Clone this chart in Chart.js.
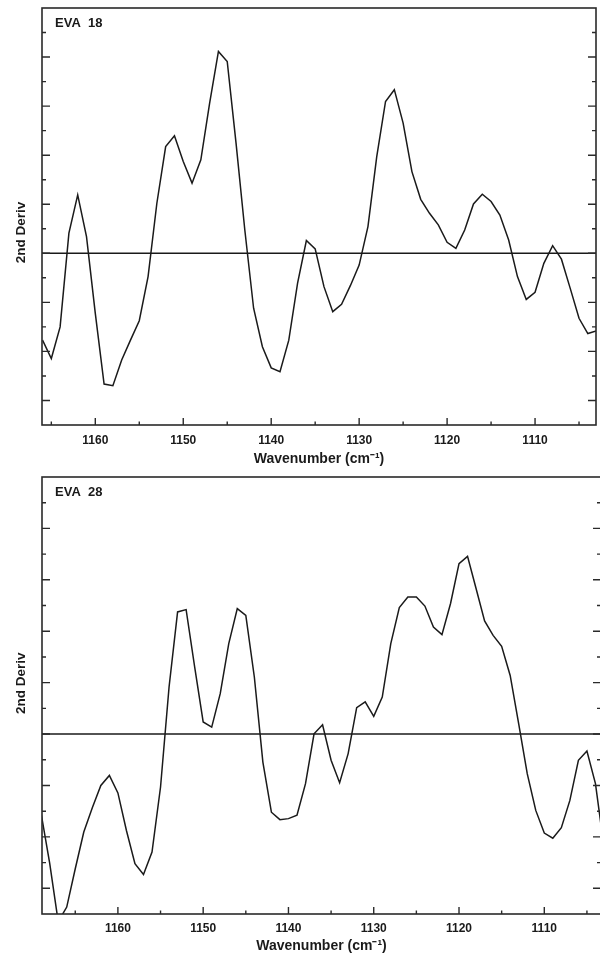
<!DOCTYPE html>
<html>
<head>
<meta charset="utf-8">
<script src="https://cdn.jsdelivr.net/npm/chart.js@4.4.1/dist/chart.umd.min.js"></script>
<style>
  html, body { margin: 0; padding: 0; background: #fff; width: 600px; height: 954px; overflow: hidden; }
  .panel { position: absolute; left: 0; }
</style>
</head>
<body>
<div class="panel" style="top:0"><canvas id="eva18" width="600" height="470"></canvas></div>
<div class="panel" style="top:470px"><canvas id="eva28" width="602" height="484"></canvas></div>
<script>
// EVA 18 - second derivative spectrum
const wn18 = [1166, 1165, 1164, 1163, 1162, 1161, 1160, 1159, 1158, 1157, 1156, 1155, 1154, 1153, 1152, 1151,
  1150, 1149, 1148, 1147, 1146, 1145, 1144, 1143, 1142, 1141, 1140, 1139, 1138, 1137, 1136, 1135,
  1134, 1133, 1132, 1131, 1130, 1129, 1128, 1127, 1126, 1125, 1124, 1123, 1122, 1121, 1120, 1119,
  1118, 1117, 1116, 1115, 1114, 1113, 1112, 1111, 1110, 1109, 1108, 1107, 1106, 1105, 1104, 1103];
const deriv18 = [-3.54, -4.29, -3.0, 0.82, 2.38, 0.68, -2.45, -5.33, -5.40, -4.35, -3.54, -2.75, -0.95, 2.04, 4.35, 4.79,
  3.74, 2.86, 3.81, 6.12, 8.23, 7.82, 4.5, 0.95, -2.24, -3.81, -4.67, -4.83, -3.54, -1.22, 0.52, 0.18,
  -1.36, -2.38, -2.08, -1.32, -0.48, 1.09, 3.94, 6.19, 6.67, 5.31, 3.33, 2.2, 1.63, 1.16, 0.45, 0.2,
  0.95, 2.01, 2.41, 2.11, 1.56, 0.54, -0.95, -1.88, -1.59, -0.41, 0.31, -0.24, -1.43, -2.65, -3.27, -3.16];

// EVA 28
const wn28 = [1169, 1168, 1167, 1166, 1165, 1164, 1163, 1162, 1161, 1160, 1159, 1158, 1157, 1156, 1155, 1154,
  1153, 1152, 1151, 1150, 1149, 1148, 1147, 1146, 1145, 1144, 1143, 1142, 1141, 1140, 1139, 1138,
  1137, 1136, 1135, 1134, 1133, 1132, 1131, 1130, 1129, 1128, 1127, 1126, 1125, 1124, 1123, 1122,
  1121, 1120, 1119, 1118, 1117, 1116, 1115, 1114, 1113, 1112, 1111, 1110, 1109, 1108, 1107, 1106,
  1105, 1104, 1103];
const deriv28 = [-3.10, -5.02, -7.3, -6.73, -5.24, -3.81, -2.87, -2.0, -1.61, -2.29, -3.75, -5.04, -5.46, -4.59, -2.06, 1.83,
  4.75, 4.84, 2.61, 0.47, 0.27, 1.57, 3.52, 4.88, 4.62, 2.22, -1.09, -3.04, -3.33, -3.29, -3.16, -1.93,
  0.01, 0.36, -1.02, -1.89, -0.76, 1.03, 1.25, 0.69, 1.44, 3.52, 4.92, 5.33, 5.33, 4.98, 4.16, 3.87,
  5.07, 6.63, 6.91, 5.66, 4.40, 3.84, 3.41, 2.28, 0.40, -1.54, -2.97, -3.85, -4.05, -3.64, -2.58, -1.02,
  -0.66, -1.93, -4.4];

// axis ticks
const xMajorTicks = [1160, 1150, 1140, 1130, 1120, 1110];
const xMinorTicks = [1165, 1155, 1145, 1135, 1125, 1115, 1105];
const yMajorTicks = [-6, -4, -2, 0, 2, 4, 6, 8];
const yMinorTicks = [-5, -3, -1, 1, 3, 5, 7, 9];

const FONT = '"Liberation Sans", Arial, sans-serif';
const INK = '#1a1a1a';

// frame, inward ticks, zero line, panel name and y title
const framePlugin = {
  id: 'frame',
  beforeDatasetsDraw(chart) {
    const { ctx, chartArea: a, scales: { y } } = chart;
    const y0 = y.getPixelForValue(0);
    ctx.save();
    ctx.strokeStyle = INK;
    ctx.lineWidth = 1.5;
    ctx.beginPath();
    ctx.moveTo(a.left, y0);
    ctx.lineTo(a.right, y0);
    ctx.stroke();
    ctx.restore();
  },
  afterDatasetsDraw(chart, args, opts) {
    const { ctx, chartArea: a, scales: { x, y } } = chart;
    ctx.save();
    ctx.strokeStyle = '#2a2a2a';
    ctx.lineWidth = 1.6;
    ctx.strokeRect(a.left, a.top, a.right - a.left, a.bottom - a.top);

    ctx.lineWidth = 1.4;
    ctx.beginPath();
    xMajorTicks.forEach(v => {
      const px = x.getPixelForValue(v);
      ctx.moveTo(px, a.bottom); ctx.lineTo(px, a.bottom - 7);
    });
    xMinorTicks.forEach(v => {
      const px = x.getPixelForValue(v);
      ctx.moveTo(px, a.bottom); ctx.lineTo(px, a.bottom - 3.5);
    });
    yMajorTicks.forEach(v => {
      const py = y.getPixelForValue(v);
      ctx.moveTo(a.left, py); ctx.lineTo(a.left + 8, py);
      ctx.moveTo(a.right, py); ctx.lineTo(a.right - 8, py);
    });
    yMinorTicks.forEach(v => {
      const py = y.getPixelForValue(v);
      ctx.moveTo(a.left, py); ctx.lineTo(a.left + 4, py);
      ctx.moveTo(a.right, py); ctx.lineTo(a.right - 4, py);
    });
    ctx.stroke();

    ctx.fillStyle = INK;
    ctx.font = 'bold 13px ' + FONT;
    ctx.textBaseline = 'middle';
    ctx.textAlign = 'left';
    ctx.fillText(opts.name, a.left + 13, a.top + 15);

    ctx.font = 'bold 13.5px ' + FONT;
    ctx.translate(21.7, opts.titleY);
    ctx.rotate(-Math.PI / 2);
    ctx.textAlign = 'center';
    ctx.fillText('2nd Deriv', 0, 0);
    ctx.restore();
  }
};

function makePanel(id, name, wn, vals, xMin, xMax, pad, axisHeight, tickPad, titlePad, titleY) {
  return new Chart(document.getElementById(id), {
    type: 'line',
    data: {
      datasets: [{
        data: wn.map((w, i) => ({ x: w, y: vals[i] })),
        borderColor: INK,
        borderWidth: 1.5,
        pointRadius: 0,
        tension: 0,
        fill: false
      }]
    },
    options: {
      responsive: false,
      animation: false,
      events: [],
      layout: { padding: pad },
      plugins: {
        legend: { display: false },
        tooltip: { enabled: false },
        frame: { name: name, titleY: titleY }
      },
      scales: {
        x: {
          type: 'linear',
          reverse: true,
          min: xMin,
          max: xMax,
          border: { display: false },
          grid: { display: false, drawTicks: false },
          afterBuildTicks: s => { s.ticks = xMajorTicks.map(v => ({ value: v })); },
          afterFit: s => { s.height = axisHeight; },
          ticks: {
            autoSkip: false,
            maxRotation: 0,
            padding: tickPad,
            color: INK,
            font: { family: FONT, size: 12, weight: 'bold' },
            callback: v => String(v)
          },
          title: {
            display: true,
            text: 'Wavenumber (cm\u207B\u00B9)',
            color: INK,
            padding: { top: 0, bottom: titlePad },
            font: { family: FONT, size: 14, weight: 'bold' }
          }
        },
        y: {
          display: false,
          min: -7,
          max: 10
        }
      }
    },
    plugins: [framePlugin]
  });
}

makePanel('eva18', 'EVA  18', wn18, deriv18, 1103.07, 1166.06,
  { top: 8, left: 42, right: 4, bottom: 0 }, 45, 8, 2, 232.5);
makePanel('eva28', 'EVA  28', wn28, deriv28, 1103.35, 1168.9,
  { top: 7, left: 42, right: 1, bottom: 0 }, 40, 7, -1, 213.3);
</script>
</body>
</html>
